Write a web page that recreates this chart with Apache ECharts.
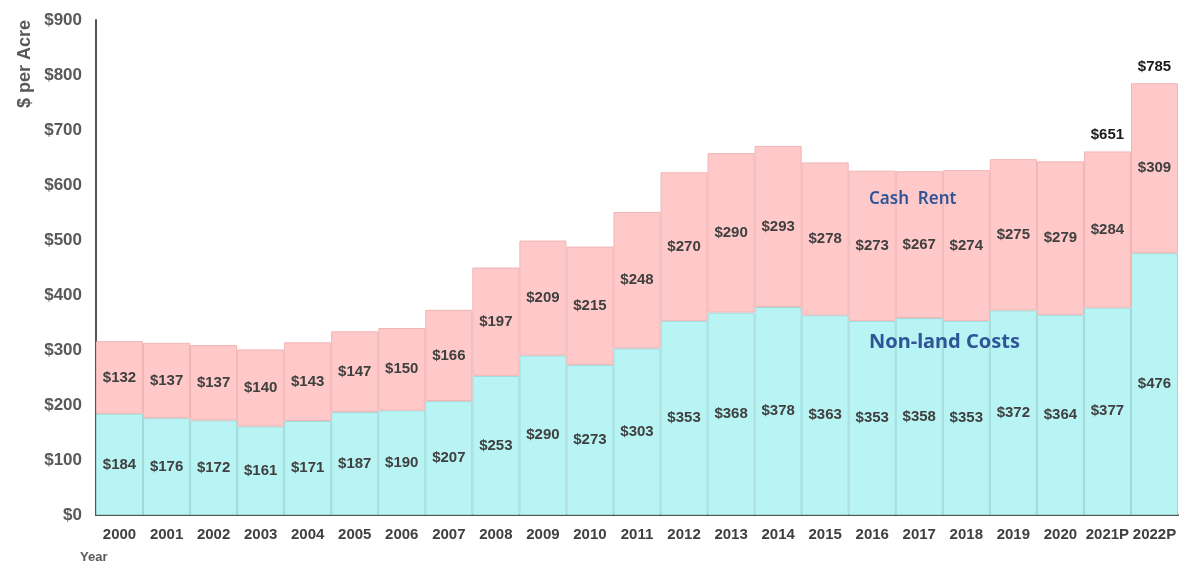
<!DOCTYPE html>
<html><head><meta charset="utf-8">
<script src="https://cdn.jsdelivr.net/npm/echarts@6/dist/echarts.min.js"></script>
<style>html,body{margin:0;padding:0;background:#fff}#c{width:1194px;height:567px}</style>
</head><body><div id="c"></div>
<script>
var categories = ['2000','2001','2002','2003','2004','2005','2006','2007','2008','2009','2010','2011','2012','2013','2014','2015','2016','2017','2018','2019','2020','2021P','2022P'];
var nonLandCosts = [184,176,172,161,171,187,190,207,253,290,273,303,353,368,378,363,353,358,353,372,364,377,476];
var cashRent = [132,137,137,140,143,147,150,166,197,209,215,248,270,290,293,278,273,267,274,275,279,284,309];
var totalLabels = [null,null,null,null,null,null,null,null,null,null,null,null,null,null,null,null,null,null,null,null,null,651,785];
var yTicks = [0,100,200,300,400,500,600,700,800,900];

var chart = echarts.init(document.getElementById('c'));
var FF = 'Liberation Sans, Arial, sans-serif';
var lblFont = {fontFamily:FF, fontWeight:'bold', fontSize:15, color:'#404040'};
chart.setOption({
  animation:false,
  grid:{left:96,right:16,top:20,bottom:52},
  xAxis:{type:'category',data:categories,
    axisLine:{lineStyle:{color:'#555',width:2}},axisTick:{show:false},
    axisLabel:{fontFamily:FF,fontWeight:'bold',fontSize:15,color:'#404040',margin:12,interval:0}},
  yAxis:{type:'value',min:0,max:900,interval:100,
    axisLine:{show:true,lineStyle:{color:'#555',width:2}},axisTick:{show:false},splitLine:{show:false},
    axisLabel:{fontFamily:FF,fontWeight:'bold',fontSize:17,color:'#595959',margin:14,
      formatter:function(v){return '$'+v;}}},
  series:[
    {name:'Non-land Costs',type:'bar',stack:'t',barCategoryGap:'0%',data:nonLandCosts,
      itemStyle:{color:'#b7f4f3',borderColor:'#9ed9d8',borderWidth:1},
      label:Object.assign({show:true,position:'inside',formatter:function(p){return '$'+p.value;}},lblFont)},
    {name:'Cash Rent',type:'bar',stack:'t',barCategoryGap:'0%',data:cashRent,
      itemStyle:{color:'#ffc9c9',borderColor:'#f0b4b4',borderWidth:1},
      label:Object.assign({show:true,position:'inside',formatter:function(p){return '$'+p.value;}},lblFont)},
    {name:'Total',type:'bar',stack:'t',barCategoryGap:'0%',
      data:totalLabels.map(function(v){return v==null?null:0;}),
      itemStyle:{color:'transparent'},
      label:Object.assign({show:true,position:'top',distance:9,formatter:function(p){var v=totalLabels[p.dataIndex];return v==null?'':'$'+v;}},lblFont,{color:'#1a1a1a'})}
  ],
  graphic:[
    {type:'text',z:100,left:16,top:20,rotation:Math.PI/2,style:{text:'$ per Acre',fontFamily:FF,fontWeight:'bold',fontSize:18,fill:'#595959'}},
    {type:'text',z:100,left:80,top:551,style:{text:'Year',fontFamily:FF,fontWeight:'bold',fontSize:13,fill:'#595959'}},
    {type:'text',z:100,left:869,top:191,style:{text:'Cash  Rent',fontFamily:'Noto Sans, sans-serif',fontWeight:'600',fontSize:17,fill:'#2f5597'}},
    {type:'text',z:100,left:869,top:332,style:{text:'Non-land Costs',fontFamily:'Noto Sans, sans-serif',fontWeight:'bold',fontSize:20,fill:'#2f5597'}}
  ]
});
</script></body></html>
